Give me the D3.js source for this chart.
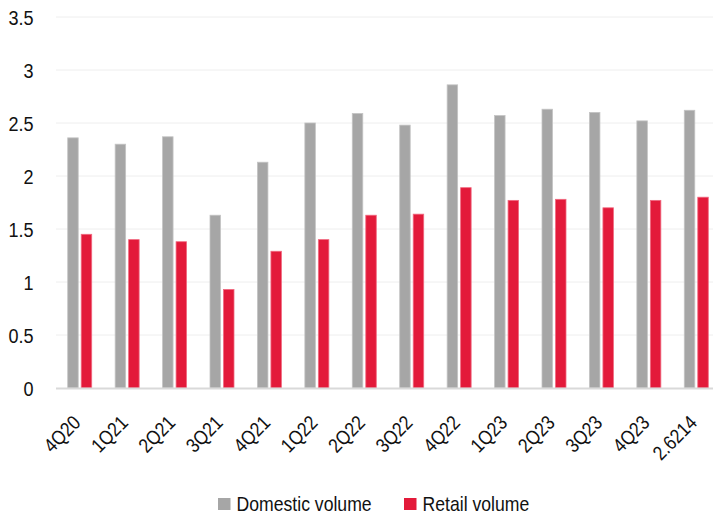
<!DOCTYPE html>
<html>
<head>
<meta charset="utf-8">
<script src="https://cdn.jsdelivr.net/npm/d3@7"></script>
<style>
  body { margin: 0; background: #fff; }
  text { font-family: "Liberation Sans", Arial, sans-serif; fill: #111; }
</style>
</head>
<body>
<svg id="chart" width="713" height="517"></svg>
<script>
// chart data
var categories = ['4Q20', '1Q21', '2Q21', '3Q21', '4Q21', '1Q22', '2Q22', '3Q22', '4Q22', '1Q23', '2Q23', '3Q23', '4Q23', '2.6214'];
var domestic   = [2.36, 2.30, 2.37, 1.63, 2.13, 2.50, 2.59, 2.48, 2.86, 2.57, 2.63, 2.60, 2.52, 2.62];
var retail     = [1.45, 1.40, 1.38, 0.93, 1.29, 1.40, 1.63, 1.64, 1.89, 1.77, 1.78, 1.70, 1.77, 1.80];
var yTicks     = [0, 0.5, 1, 1.5, 2, 2.5, 3, 3.5];
var seriesNames = ['Domestic volume', 'Retail volume'];

var colors  = ['#a6a6a6', '#e31a3a'];
var strokes = ['#c4c4c4', '#f06a80'];

// the reference font is a narrow sans, so squeeze Liberation Sans
var narrow = 0.86;

var svg = d3.select('#chart');

// the last group runs a bit past the right edge, as in the original
var plotLeft = 56, plotRight = 720, plotTop = 17, plotBottom = 388;

var x = d3.scaleBand()
    .domain(categories)
    .range([plotLeft, plotRight]);

var y = d3.scaleLinear()
    .domain([0, 3.5])
    .range([plotBottom, plotTop]);

var barW = 10.5, gap = 3;

// gridlines
svg.append('g')
    .selectAll('line')
    .data(yTicks.filter(function(d) { return d > 0; }))
    .enter()
    .append('line')
    .attr('x1', plotLeft)
    .attr('x2', 713)
    .attr('y1', function(d) { return y(d); })
    .attr('y2', function(d) { return y(d); })
    .attr('stroke', '#eeeeee')
    .attr('stroke-width', 1);

// y labels
svg.append('g')
    .selectAll('text')
    .data(yTicks)
    .enter()
    .append('text')
    .attr('transform', function(d) {
        return 'translate(33.5,' + y(d) + ') scale(' + narrow + ',1)';
    })
    .attr('dy', '0.36em')
    .attr('text-anchor', 'end')
    .attr('font-size', 21)
    .text(function(d) { return d; });

// bars
var series = [domestic, retail];

series.forEach(function(values, s) {
    svg.append('g')
        .selectAll('rect')
        .data(values)
        .enter()
        .append('rect')
        .attr('x', function(d, i) {
            var c = x(categories[i]) + x.bandwidth() / 2;
            return s == 0 ? c - gap / 2 - barW : c + gap / 2;
        })
        .attr('y', function(d) { return y(d); })
        .attr('width', barW)
        .attr('height', function(d) { return y(0) - y(d); })
        .attr('fill', colors[s])
        .attr('stroke', strokes[s])
        .attr('stroke-width', 0.8);
});

// baseline
svg.append('line')
    .attr('x1', plotLeft)
    .attr('x2', 713)
    .attr('y1', y(0) + 0.5)
    .attr('y2', y(0) + 0.5)
    .attr('stroke', '#d9d9d9')
    .attr('stroke-width', 2);

// x labels
svg.append('g')
    .selectAll('text')
    .data(categories)
    .enter()
    .append('text')
    .attr('transform', function(d) {
        var c = x(d) + x.bandwidth() / 2;
        return 'translate(' + (c + 2) + ',424) rotate(-45) scale(' + narrow + ',1)';
    })
    .attr('text-anchor', 'end')
    .attr('font-size', 20)
    .text(function(d) { return d; });

// legend
var legend = svg.append('g');
var lx = [218, 404];

seriesNames.forEach(function(name, s) {
    legend.append('rect')
        .attr('x', lx[s])
        .attr('y', 498)
        .attr('width', 12.5)
        .attr('height', 12)
        .attr('fill', colors[s]);

    legend.append('text')
        .attr('transform', 'translate(' + (lx[s] + 18.5) + ',510.5) scale(' + narrow + ',1)')
        .attr('font-size', 20.5)
        .text(name);
});
</script>
</body>
</html>
